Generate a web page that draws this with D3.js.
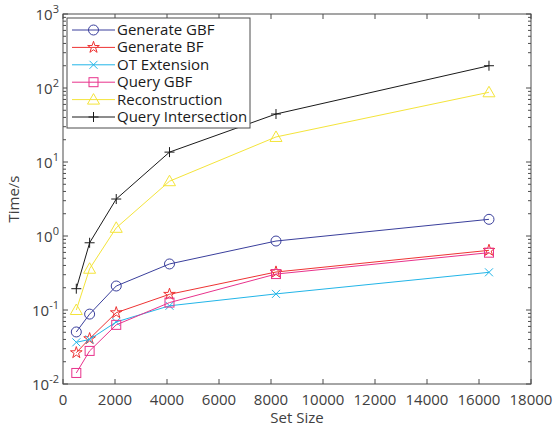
<!DOCTYPE html>
<html>
<head>
<meta charset="utf-8">
<script src="https://cdn.jsdelivr.net/npm/d3@7"></script>
<style>
  body { margin: 0; background: #fff; }
  svg { font-family: "Open Sans", "Liberation Sans", sans-serif; }
</style>
</head>
<body>
<div id="chart"></div>
<script>
// data
const setSizes = [512, 1024, 2048, 4096, 8192, 16384];
const generateGBF = [0.0505, 0.088, 0.211, 0.419, 0.855, 1.68];
const generateBF = [0.0265, 0.041, 0.092, 0.163, 0.326, 0.64];
const otExtension = [0.0366, 0.040, 0.069, 0.114, 0.165, 0.323];
const queryGBF = [0.0141, 0.028, 0.063, 0.126, 0.306, 0.595];
const reconstruction = [0.10, 0.361, 1.29, 5.5, 21.8, 87.5];
const queryIntersection = [0.194, 0.81, 3.16, 13.6, 44.5, 200];

const xTicks = [0, 2000, 4000, 6000, 8000, 10000, 12000, 14000, 16000, 18000];
const yDecades = [-2, -1, 0, 1, 2, 3];

const series = [
    { name: "Generate GBF", values: generateGBF, color: "#3a3f9c", marker: "circle" },
    { name: "Generate BF", values: generateBF, color: "#ee3333", marker: "star" },
    { name: "OT Extension", values: otExtension, color: "#22b5e8", marker: "x" },
    { name: "Query GBF", values: queryGBF, color: "#e8328c", marker: "square" },
    { name: "Reconstruction", values: reconstruction, color: "#f4e43a", marker: "triangle" },
    { name: "Query Intersection", values: queryIntersection, color: "#1a1a1a", marker: "plus" }
];

const width = 556, height = 430;
const margin = { top: 14, right: 25, bottom: 46, left: 63 };
const axisColor = "#4d4d4d";

const svg = d3.select("#chart").append("svg")
    .attr("width", width)
    .attr("height", height);

const x = d3.scaleLinear()
    .domain([0, 18000])
    .range([margin.left, width - margin.right]);

const y = d3.scaleLog()
    .domain([1e-2, 1e3])
    .range([height - margin.bottom, margin.top]);

const x0 = x.range()[0], x1 = x.range()[1];
const y0 = y.range()[0], y1 = y.range()[1];

// box
svg.append("rect")
    .attr("x", x0).attr("y", y1)
    .attr("width", x1 - x0).attr("height", y0 - y1)
    .attr("fill", "none")
    .attr("stroke", axisColor)
    .attr("stroke-width", 1);

const ticks = svg.append("g").attr("stroke", axisColor).attr("stroke-width", 1);

// x ticks (inward, bottom and top)
xTicks.forEach(t => {
    ticks.append("line").attr("x1", x(t)).attr("x2", x(t)).attr("y1", y0).attr("y2", y0 - 5);
    ticks.append("line").attr("x1", x(t)).attr("x2", x(t)).attr("y1", y1).attr("y2", y1 + 5);
});

// y ticks: major + minor log ticks, left and right
yDecades.forEach(d => {
    const v = Math.pow(10, d);
    ticks.append("line").attr("x1", x0).attr("x2", x0 + 5).attr("y1", y(v)).attr("y2", y(v));
    ticks.append("line").attr("x1", x1).attr("x2", x1 - 5).attr("y1", y(v)).attr("y2", y(v));
    if (d < 3) {
        for (let k = 2; k <= 9; k++) {
            const m = k * v;
            ticks.append("line").attr("x1", x0).attr("x2", x0 + 3).attr("y1", y(m)).attr("y2", y(m));
            ticks.append("line").attr("x1", x1).attr("x2", x1 - 3).attr("y1", y(m)).attr("y2", y(m));
        }
    }
});

// x tick labels
svg.append("g").selectAll("text")
    .data(xTicks)
    .join("text")
    .attr("x", d => x(d))
    .attr("y", y0 + 21)
    .attr("text-anchor", "middle")
    .attr("fill", "#404040")
    .attr("font-size", 15)
    .text(d => d);

// y tick labels 10^n
const yl = svg.append("g");
yDecades.forEach(d => {
    const t = yl.append("text")
        .attr("x", x0 - 4)
        .attr("y", y(Math.pow(10, d)) + 6)
        .attr("text-anchor", "end")
        .attr("fill", "#404040")
        .attr("font-size", 15);
    t.append("tspan").text("10");
    t.append("tspan").attr("dy", -7).attr("font-size", 11).text(d);
});

// axis labels
svg.append("text")
    .attr("x", (x0 + x1) / 2)
    .attr("y", height - 7)
    .attr("text-anchor", "middle")
    .attr("fill", "#404040")
    .attr("font-size", 15)
    .text("Set Size");

svg.append("text")
    .attr("transform", `translate(19,${(y0 + y1) / 2}) rotate(-90)`)
    .attr("text-anchor", "middle")
    .attr("fill", "#404040")
    .attr("font-size", 15)
    .text("Time/s");

// markers
function drawMarker(g, type, cx, cy, color) {
    if (type === "circle") {
        g.append("circle").attr("cx", cx).attr("cy", cy).attr("r", 5)
            .attr("fill", "none").attr("stroke", color);
    } else if (type === "square") {
        g.append("rect").attr("x", cx - 4.5).attr("y", cy - 4.5).attr("width", 9).attr("height", 9)
            .attr("fill", "none").attr("stroke", color);
    } else if (type === "triangle") {
        g.append("path").attr("d", `M${cx},${cy - 6}L${cx + 6},${cy + 4.5}L${cx - 6},${cy + 4.5}Z`)
            .attr("fill", "none").attr("stroke", color);
    } else if (type === "x") {
        g.append("path").attr("d", `M${cx - 4},${cy - 4}L${cx + 4},${cy + 4}M${cx - 4},${cy + 4}L${cx + 4},${cy - 4}`)
            .attr("stroke", color);
    } else if (type === "plus") {
        g.append("path").attr("d", `M${cx - 5},${cy}L${cx + 5},${cy}M${cx},${cy - 5}L${cx},${cy + 5}`)
            .attr("stroke", color);
    } else if (type === "star") {
        const star = d3.symbol().type(d3.symbolStar).size(42);
        g.append("path").attr("d", star())
            .attr("transform", `translate(${cx},${cy})`)
            .attr("fill", "none").attr("stroke", color);
    }
}

const line = d3.line()
    .x(d => x(d[0]))
    .y(d => y(d[1]));

series.forEach(s => {
    const pts = setSizes.map((n, i) => [n, s.values[i]]);
    svg.append("path")
        .datum(pts)
        .attr("fill", "none")
        .attr("stroke", s.color)
        .attr("stroke-width", 1)
        .attr("d", line);
    const g = svg.append("g");
    pts.forEach(p => drawMarker(g, s.marker, x(p[0]), y(p[1]), s.color));
});

// legend
const lg = svg.append("g");
lg.append("rect")
    .attr("x", 67).attr("y", 18)
    .attr("width", 183).attr("height", 110)
    .attr("fill", "#fff")
    .attr("stroke", axisColor);

series.forEach((s, i) => {
    const ly = 30 + i * 17.4;
    lg.append("line")
        .attr("x1", 72).attr("x2", 115)
        .attr("y1", ly).attr("y2", ly)
        .attr("stroke", s.color);
    drawMarker(lg, s.marker, 93.5, ly, s.color);
    lg.append("text")
        .attr("x", 117)
        .attr("y", ly + 5)
        .attr("fill", "#1a1a1a")
        .attr("font-size", 15)
        .text(s.name);
});
</script>
</body>
</html>
